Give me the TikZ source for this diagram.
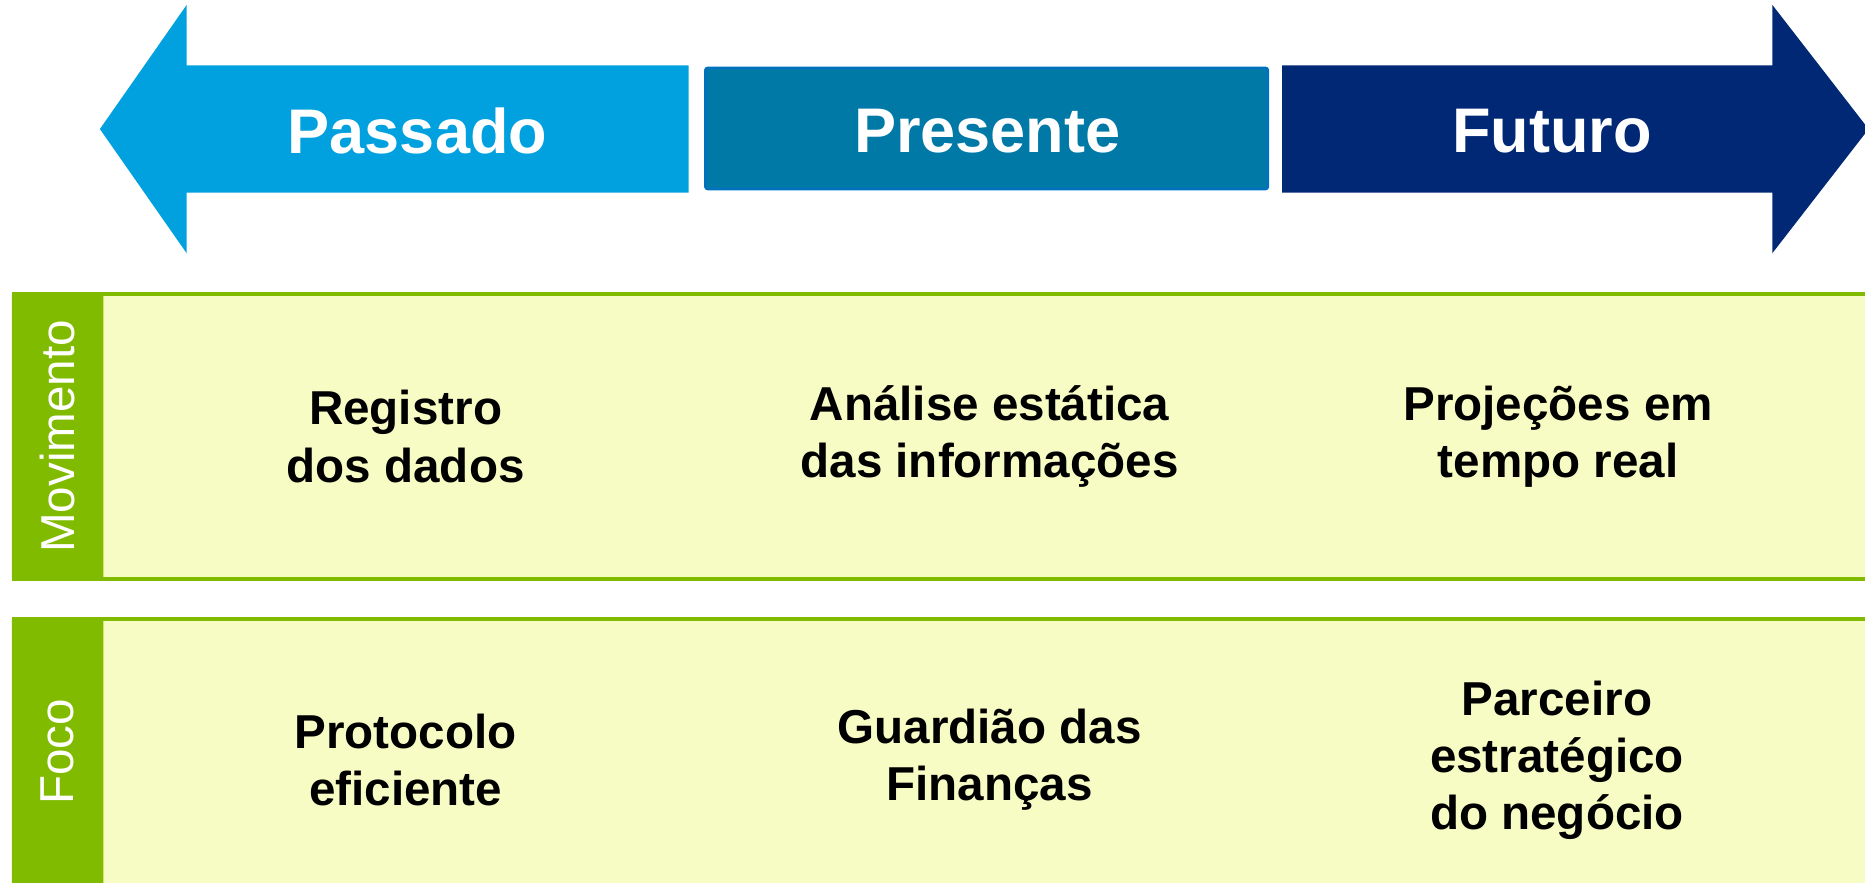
\documentclass[tikz,border=0pt]{standalone}
\usepackage{fontspec}
\setmainfont{Liberation Sans}
\usetikzlibrary{positioning}

\definecolor{pastblue}{RGB}{0,161,222}
\definecolor{presfill}{RGB}{0,121,167}
\definecolor{presline}{RGB}{0,112,192}
\definecolor{futblue}{RGB}{0,40,117}
\definecolor{bandgreen}{RGB}{128,187,0}
\definecolor{bandfill}{RGB}{247,252,196}

\begin{document}
\begin{tikzpicture}[x=1pt,y=-1pt,
    head/.style={text=white,font=\fontsize{53}{56}\selectfont\bfseries},
    cell/.style={align=center,font=\fontsize{40}{48}\selectfont\bfseries},
    rowlabel/.style={rotate=90,text=white,font=\fontsize{40}{44}\selectfont},
    band/.style={draw=bandgreen,fill=bandfill,line width=3.5pt}]
	\useasboundingbox (0,0) rectangle (1568,742);
	\fill[pastblue] (579,55) -- (157,55) -- (157,4) -- (84,108.5) -- (157,213) -- (157,162) -- (579,162) -- cycle;
	\draw[presline,fill=presfill,line width=2pt,rounded corners=2pt] (593,57) rectangle (1066,159);
	\fill[futblue] (1078,55) -- (1490,55) -- (1490,4) -- (1571,108.5) -- (1490,213) -- (1490,162) -- (1078,162) -- cycle;
	\node[head] (passado) at (351,110) {Passado};
	\node[head] (presente) at (830,110) {Presente};
	\node[head] (futuro) at (1305,110) {Futuro};

	\draw[band] (11.5,247.5) rectangle (1600,486.5);
	\fill[bandgreen,rounded corners=2pt] (10,246) rectangle (87,488);
	\draw[band] (11.5,520.5) rectangle (1600,780);
	\fill[bandgreen,rounded corners=2pt] (10,519) rectangle (87,780);
	\node[rowlabel] (movimento) at (48,367) {Movimento};
	\node[rowlabel] (foco) at (48,632) {Foco};

	\node[cell] (registro) at (341,367) {Registro\\dos dados};
	\node[cell] (analise) at (832,367) {Análise estática\\das informações};
	\node[cell] (projecoes) at (1310,367) {Projeções em\\tempo real};
	\node[cell] (protocolo) at (341,639) {Protocolo\\eficiente};
	\node[cell] (guardiao) at (832,639) {Guardião das\\Finanças};
	\node[cell] (parceiro) at (1309,639) {Parceiro\\estratégico\\do negócio};
\end{tikzpicture}
\end{document}
